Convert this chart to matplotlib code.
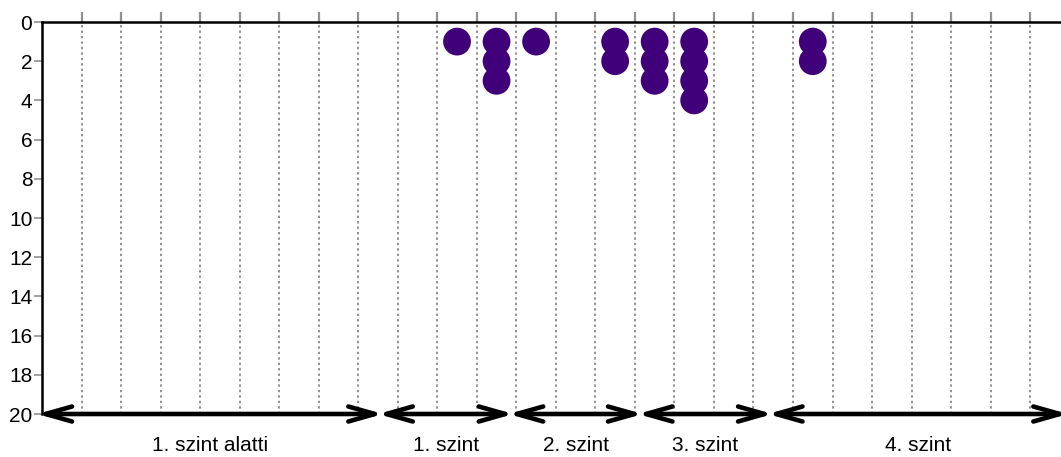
import matplotlib.pyplot as plt

# =========================
# DATA
# =========================
columns = [10, 11, 12, 14, 15, 16, 19]   # oszlop (bal szélétől számolva)
counts = [1, 3, 1, 2, 3, 4, 2]            # hány pont van egymás alatt
n_cols = 25.78

level_names = ["1. szint alatti", "1. szint", "2. szint", "3. szint", "4. szint"]
level_start = [-0.12, 8.50, 11.80, 15.07, 18.36]
level_end = [8.63, 11.93, 15.20, 18.49, 25.96]

y_ticks = list(range(0, 21, 2))

# =========================
# FIGURE
# =========================
plt.rcParams['font.family'] = ['Liberation Sans', 'DejaVu Sans']

fig = plt.figure(figsize=(10.61, 4.57), dpi=100)
ax = fig.add_axes([42 / 1061, 43 / 457, 1019 / 1061, 392 / 457])

xs, ys = [], []
for c, n in zip(columns, counts):
    for k in range(1, n + 1):
        xs.append(c + 0.5)
        ys.append(k)
ax.scatter(xs, ys, s=400, color='#40007a', edgecolors='none', zorder=3, clip_on=False)

for g in range(1, 26):
    ax.axvline(g, color='#909090', lw=1.4, ls=(0, (1.2, 1.6)), zorder=1)

ax.set_xlim(0, n_cols)
ax.set_ylim(20, 0)
ax.set_yticks(y_ticks)
ax.set_xticks(range(1, 26))
ax.tick_params(axis='y', length=6, width=1.2, color='#909090', labelsize=15, pad=1)
ax.tick_params(axis='x', bottom=False, labelbottom=False, top=True, direction='out',
               length=7, width=1.6, color='#909090')

for s in ['right', 'bottom']:
    ax.spines[s].set_visible(False)
ax.spines['left'].set_linewidth(1.8)
ax.spines['top'].set_linewidth(1.8)

# szint nyilak
for name, a, b in zip(level_names, level_start, level_end):
    ax.annotate('', xy=(b, 20), xytext=(a, 20), annotation_clip=False,
                arrowprops=dict(arrowstyle='<->, head_length=0.95, head_width=0.27',
                                mutation_scale=20, lw=3.3, color='black',
                                shrinkA=0, shrinkB=0))
    ax.text((a + b) / 2, 21.6, name, ha='center', va='center', fontsize=15, clip_on=False)

fig.savefig("out.png", dpi=100)
